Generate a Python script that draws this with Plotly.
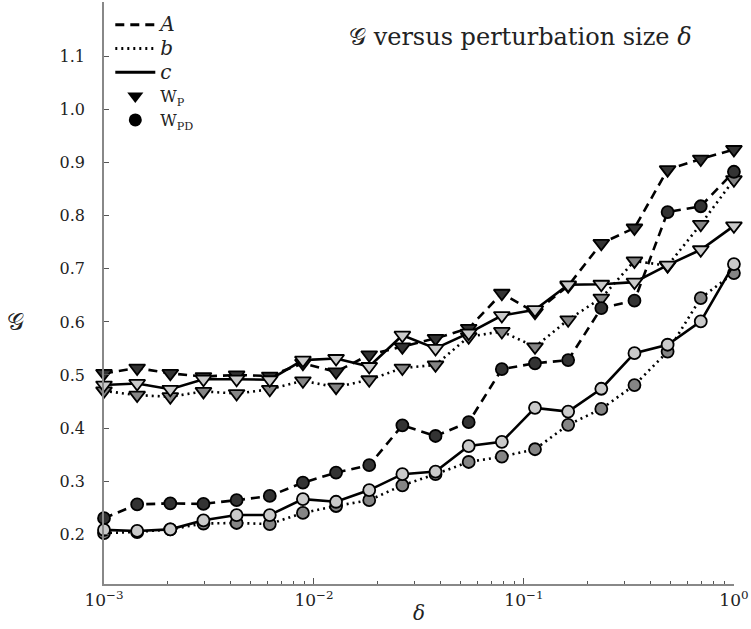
import numpy as np
import plotly.graph_objects as go

# perturbation sizes: 20 log-spaced points from 1e-3 to 1
delta = np.logspace(-3, 0, 20)

# G for the W_P weighting (triangles)
A_wp = [0.503, 0.513, 0.503, 0.497, 0.500, 0.498, 0.522, 0.506, 0.538, 0.553,
        0.569, 0.588, 0.654, 0.618, 0.668, 0.748, 0.777, 0.887, 0.907, 0.925]
b_wp = [0.470, 0.462, 0.459, 0.469, 0.465, 0.473, 0.489, 0.477, 0.491, 0.513,
        0.519, 0.572, 0.582, 0.553, 0.604, 0.645, 0.715, 0.706, 0.784, 0.868]
c_wp = [0.481, 0.484, 0.473, 0.492, 0.492, 0.491, 0.528, 0.531, 0.516, 0.575,
        0.550, 0.579, 0.612, 0.623, 0.670, 0.671, 0.675, 0.707, 0.736, 0.781]

# G for the W_PD weighting (circles)
A_wpd = [0.230, 0.256, 0.258, 0.257, 0.264, 0.272, 0.297, 0.316, 0.330, 0.405,
         0.385, 0.411, 0.511, 0.522, 0.528, 0.626, 0.640, 0.807, 0.818, 0.883]
b_wpd = [0.202, 0.204, 0.209, 0.220, 0.221, 0.219, 0.240, 0.253, 0.264, 0.292,
         0.313, 0.336, 0.346, 0.360, 0.406, 0.436, 0.481, 0.544, 0.645, 0.692]
c_wpd = [0.208, 0.206, 0.209, 0.226, 0.236, 0.236, 0.266, 0.261, 0.283, 0.313,
         0.318, 0.366, 0.374, 0.438, 0.431, 0.474, 0.541, 0.557, 0.601, 0.709]

y_ticks = [0.2, 0.3, 0.4, 0.5, 0.6, 0.7, 0.8, 0.9, 1.0, 1.1]
x_ticks = [1e-3, 1e-2, 1e-1, 1.0]
x_ticktext = ["10<sup>\u22123</sup>", "10<sup>\u22122</sup>", "10<sup>\u22121</sup>", "10<sup>0</sup>"]

SERIF = "DejaVu Serif"
styles = {
    "A": dict(dash="9px,6px", fill="#333333"),
    "b": dict(dash="2px,4px", fill="#858585"),
    "c": dict(dash="solid", fill="#cacaca"),
}

fig = go.Figure()

def add_series(y, key, symbol, size):
    st = styles[key]
    fig.add_trace(go.Scatter(
        x=delta, y=y, mode="lines+markers", showlegend=False, cliponaxis=False,
        line=dict(color="black", width=2.6, dash=st["dash"]),
        marker=dict(symbol=symbol, size=size, color=st["fill"],
                    line=dict(color="black", width=1.8)),
    ))

for key, ys in (("A", A_wp), ("b", b_wp), ("c", c_wp)):
    add_series(ys, key, "triangle-down", 14)
for key, ys in (("A", A_wpd), ("b", b_wpd), ("c", c_wpd)):
    add_series(ys, key, "circle", 12)

# legend entries: line styles for the three quantities, marker shapes for the weightings
big = "<span style='font-size:20px'><i>{}</i></span>"
fig.add_trace(go.Scatter(x=[None], y=[None], mode="lines", name=big.format("A"),
                         line=dict(color="black", width=3, dash="9px,6px")))
fig.add_trace(go.Scatter(x=[None], y=[None], mode="lines", name=big.format("b"),
                         line=dict(color="black", width=3, dash="2px,4px")))
fig.add_trace(go.Scatter(x=[None], y=[None], mode="lines", name=big.format("c"),
                         line=dict(color="black", width=3)))
fig.add_trace(go.Scatter(x=[None], y=[None], mode="markers", name="W<sub>P</sub>",
                         marker=dict(symbol="triangle-down", size=14, color="black")))
fig.add_trace(go.Scatter(x=[None], y=[None], mode="markers", name="W<sub>PD</sub>",
                         marker=dict(symbol="circle", size=13, color="black")))

fig.update_layout(
    width=751, height=629,
    margin=dict(l=104, r=11, t=2, b=45),
    paper_bgcolor="white", plot_bgcolor="white",
    font=dict(family=SERIF, size=16, color="#222222"),
    showlegend=True,
    legend=dict(x=0.01, y=0.99, xanchor="left", yanchor="top",
                bgcolor="rgba(0,0,0,0)", font=dict(family=SERIF, size=16),
                tracegroupgap=0, itemwidth=40),
    xaxis=dict(type="log", range=[-3, 0.0004], showgrid=False, zeroline=False,
               showline=True, linecolor="#888888", linewidth=1.5,
               tickvals=x_ticks, ticktext=x_ticktext, ticklabeloverflow="allow",
               ticks="inside", ticklen=6, tickcolor="#555555", tickwidth=1,
               tickfont=dict(family=SERIF, size=17),
               minor=dict(ticks="inside", ticklen=3, tickcolor="#555555",
                          dtick="D1", showgrid=False)),
    yaxis=dict(range=[0.106, 1.203], showgrid=False, zeroline=False,
               showline=True, linecolor="#888888", linewidth=1.5,
               tickvals=y_ticks, ticktext=[f"{v:.1f}" for v in y_ticks],
               ticks="inside", ticklen=5, tickcolor="#555555", tickwidth=1,
               ticklabelstandoff=14,
               tickfont=dict(family=SERIF, size=16)),
    annotations=[
        dict(text="\U0001D4A2 versus perturbation size <i>\u03b4</i>",
             xref="paper", yref="paper", x=0.937, y=0.94,
             xanchor="right", yanchor="middle", showarrow=False,
             font=dict(family=SERIF, size=24, color="#222222")),
        dict(text="\U0001D4A2", xref="paper", yref="paper", x=-0.14, y=0.45,
             xanchor="center", yanchor="middle", showarrow=False,
             font=dict(family=SERIF, size=24, color="#222222")),
        dict(text="<i>\u03b4</i>", xref="paper", yref="paper", x=0.5, y=-0.05,
             xanchor="center", yanchor="middle", showarrow=False,
             font=dict(family=SERIF, size=20, color="#222222")),
    ],
)

fig.write_html("out.html")
